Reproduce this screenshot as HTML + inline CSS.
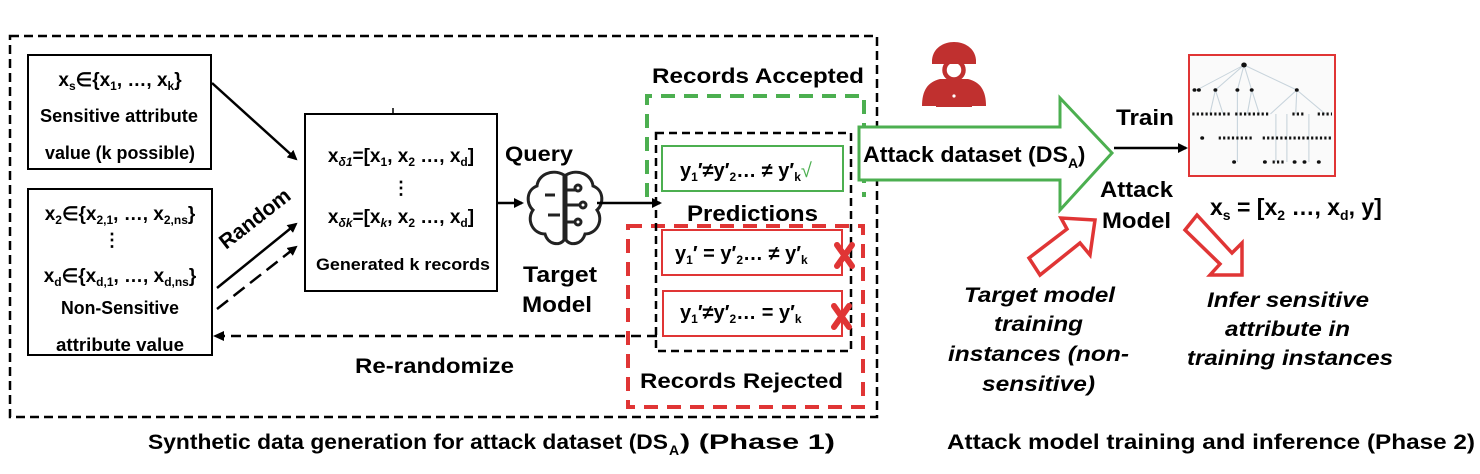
<!DOCTYPE html>
<html><head><meta charset="utf-8"><style>
html,body{margin:0;padding:0;background:#fff;}
svg{display:block;font-family:"Liberation Sans",Arial,sans-serif;font-weight:bold;}
</style></head><body>
<svg width="1480" height="474" viewBox="0 0 1480 474" xmlns="http://www.w3.org/2000/svg">
<defs>
<marker id="ah" markerWidth="10" markerHeight="10" refX="8" refY="5" orient="auto" markerUnits="userSpaceOnUse"><path d="M0,0 L10,5 L0,10 z" fill="#000"/></marker>
</defs>
<rect x="10" y="36" width="867" height="381" fill="none" stroke="#000" stroke-width="2.5" stroke-dasharray="9,5"/>
<!-- box1 -->
<rect x="28" y="55" width="183" height="114" fill="#fff" stroke="#000" stroke-width="2"/>
<text x="120" y="86" font-size="19" text-anchor="middle">x<tspan font-size="12" dy="4">s</tspan><tspan dy="-4">∈{x</tspan><tspan font-size="12" dy="4">1</tspan><tspan dy="-4">, …, x</tspan><tspan font-size="12" dy="4">k</tspan><tspan dy="-4">}</tspan></text>
<text x="40" y="122" font-size="18" textLength="158" lengthAdjust="spacingAndGlyphs">Sensitive attribute</text>
<text x="45" y="159" font-size="18" textLength="150" lengthAdjust="spacingAndGlyphs">value (k possible)</text>
<!-- box2 -->
<rect x="28" y="189" width="184" height="166" fill="#fff" stroke="#000" stroke-width="2"/>
<text x="120" y="220" font-size="19" text-anchor="middle">x<tspan font-size="12" dy="4">2</tspan><tspan dy="-4">∈{x</tspan><tspan font-size="12" dy="4">2,1</tspan><tspan dy="-4">, …, x</tspan><tspan font-size="12" dy="4">2,ns</tspan><tspan dy="-4">}</tspan></text>
<text x="112" y="246" font-size="18" text-anchor="middle">⋮</text>
<text x="120" y="282" font-size="19" text-anchor="middle">x<tspan font-size="12" dy="4">d</tspan><tspan dy="-4">∈{x</tspan><tspan font-size="12" dy="4">d,1</tspan><tspan dy="-4">, …, x</tspan><tspan font-size="12" dy="4">d,ns</tspan><tspan dy="-4">}</tspan></text>
<text x="61" y="314" font-size="18" textLength="118" lengthAdjust="spacingAndGlyphs">Non-Sensitive</text>
<text x="56" y="351" font-size="18" textLength="128" lengthAdjust="spacingAndGlyphs">attribute value</text>
<!-- box3 -->
<rect x="305" y="114" width="192" height="177" fill="#fff" stroke="#000" stroke-width="2"/>
<line x1="393" y1="108" x2="393" y2="114" stroke="#000" stroke-width="1.5"/>
<text x="401" y="162" font-size="19" text-anchor="middle">x<tspan font-size="12" dy="4" font-style="italic">δ1</tspan><tspan dy="-4">=[x</tspan><tspan font-size="12" dy="4">1</tspan><tspan dy="-4">, x</tspan><tspan font-size="12" dy="4">2</tspan><tspan dy="-4"> …, x</tspan><tspan font-size="12" dy="4">d</tspan><tspan dy="-4">]</tspan></text>
<text x="401" y="194" font-size="18" text-anchor="middle">⋮</text>
<text x="401" y="223" font-size="19" text-anchor="middle">x<tspan font-size="12" dy="4" font-style="italic">δk</tspan><tspan dy="-4">=[x</tspan><tspan font-size="12" dy="4" font-style="italic">k</tspan><tspan dy="-4">, x</tspan><tspan font-size="12" dy="4">2</tspan><tspan dy="-4"> …, x</tspan><tspan font-size="12" dy="4">d</tspan><tspan dy="-4">]</tspan></text>
<text x="316" y="270" font-size="17" textLength="174" lengthAdjust="spacingAndGlyphs">Generated k records</text>
<!-- arrows left -->
<line x1="212" y1="83" x2="296" y2="159" stroke="#000" stroke-width="2.5" marker-end="url(#ah)"/>
<line x1="217" y1="288" x2="296" y2="224" stroke="#000" stroke-width="2.5" marker-end="url(#ah)"/>
<line x1="217" y1="309" x2="296" y2="247" stroke="#000" stroke-width="2.5" stroke-dasharray="14,7" marker-end="url(#ah)"/>
<text x="0" y="0" font-size="21" transform="translate(226,250) rotate(-38)" textLength="84" lengthAdjust="spacingAndGlyphs">Random</text>
<!-- query -->
<text x="505" y="161" font-size="21" textLength="68" lengthAdjust="spacingAndGlyphs">Query</text>
<line x1="497" y1="203" x2="522" y2="203" stroke="#000" stroke-width="2.5" marker-end="url(#ah)"/>
<g fill="none" stroke="#222" stroke-width="3">
<path d="M564,175 C552,168 538,175 537,186 C526,190 526,204 533,210 C526,220 533,234 545,234 C548,245 560,246 564,240 Z"/>
<path d="M566,175 C578,168 592,175 593,186 C604,190 604,204 597,210 C604,220 597,234 585,234 C582,245 570,246 566,240 Z"/>
<path d="M566,190 h10 M566,205 h14 M566,222 h10 M545,195 h10 M548,215 h12"/>
<circle cx="578" cy="188" r="3"/><circle cx="583" cy="205" r="3"/><circle cx="578" cy="222" r="3"/>
</g>
<line x1="597" y1="203" x2="660" y2="203" stroke="#000" stroke-width="2.5" marker-end="url(#ah)"/>
<text x="523" y="282" font-size="22" textLength="74" lengthAdjust="spacingAndGlyphs">Target</text>
<text x="522" y="312" font-size="22" textLength="70" lengthAdjust="spacingAndGlyphs">Model</text>
<!-- re-randomize -->
<line x1="657" y1="336" x2="222" y2="336" stroke="#000" stroke-width="2.5" stroke-dasharray="10,6"/>
<path d="M213,336 L224,331 L224,341 z" fill="#000"/>
<text x="355" y="373" font-size="21" textLength="159" lengthAdjust="spacingAndGlyphs">Re-randomize</text>
<path d="M647,197 V96 H864 V197" fill="none" stroke="#4caf50" stroke-width="4" stroke-dasharray="14,9"/>
<text x="652" y="83" font-size="21" textLength="212" lengthAdjust="spacingAndGlyphs">Records Accepted</text>
<rect x="628" y="226" width="235" height="181" fill="none" stroke="#e03535" stroke-width="4" stroke-dasharray="14,9"/>
<text x="640" y="388" font-size="21" textLength="203" lengthAdjust="spacingAndGlyphs">Records Rejected</text>
<rect x="656" y="133" width="195" height="218" fill="none" stroke="#000" stroke-width="2.5" stroke-dasharray="8,5"/>
<rect x="662" y="146" width="181" height="45" fill="#fff" stroke="#4caf50" stroke-width="2"/>
<text x="680" y="177" font-size="20">y<tspan font-size="12" dy="4">1</tspan><tspan dy="-4">′≠y′</tspan><tspan font-size="12" dy="4">2</tspan><tspan dy="-4">… ≠ y′</tspan><tspan font-size="12" dy="4">k</tspan><tspan dy="-4" fill="#4caf50" font-weight="normal">√</tspan></text>
<text x="687" y="221" font-size="22" textLength="131" lengthAdjust="spacingAndGlyphs">Predictions</text>
<rect x="662" y="230" width="180" height="45" fill="#fff" stroke="#e03535" stroke-width="2"/>
<text x="675" y="260" font-size="20">y<tspan font-size="12" dy="4">1</tspan><tspan dy="-4">′ = y′</tspan><tspan font-size="12" dy="4">2</tspan><tspan dy="-4">… ≠ y′</tspan><tspan font-size="12" dy="4">k</tspan></text>
<rect x="663" y="291" width="179" height="45" fill="#fff" stroke="#e03535" stroke-width="2"/>
<text x="680" y="319" font-size="20">y<tspan font-size="12" dy="4">1</tspan><tspan dy="-4">′≠y′</tspan><tspan font-size="12" dy="4">2</tspan><tspan dy="-4">… = y′</tspan><tspan font-size="12" dy="4">k</tspan></text>
<g stroke="#e03535" stroke-width="6" stroke-linecap="round"><path d="M837,245 L852,266 M852,245 L837,266"/><path d="M834,306 L849,327 M849,306 L834,327"/></g>
<!-- big green arrow -->
<path d="M859,127 H1060 V98 L1112,153 L1060,210 V180 H859 Z" fill="#fff" stroke="#4caf50" stroke-width="3"/>
<text x="863" y="162" font-size="22" textLength="205" lengthAdjust="spacingAndGlyphs">Attack dataset (DS</text><text x="1068" y="168" font-size="14">A</text><text x="1078" y="162" font-size="22">)</text>
<!-- hacker -->
<g fill="#c0302f">
<path d="M932,60 C934,36 974,36 976,60 L976,64 H932 Z"/>
<circle cx="954" cy="70" r="9.5" fill="none" stroke="#c0302f" stroke-width="4.5"/>
<path d="M922,106 C922,90 928,82 940,79 L968,79 C980,82 986,90 986,106 Z"/>
<rect x="936" y="85" width="36" height="22"/>
</g>
<circle cx="954" cy="96" r="1.6" fill="#fff"/>
<!-- train -->
<text x="1116" y="125" font-size="22" textLength="58" lengthAdjust="spacingAndGlyphs">Train</text>
<line x1="1114" y1="148" x2="1186" y2="148" stroke="#000" stroke-width="2.5" marker-end="url(#ah)"/>
<rect x="1189" y="55" width="146" height="121" fill="#fafafa" stroke="#e03535" stroke-width="2"/>
<g transform="translate(1189,55) scale(1.1,1) translate(-1161,-55)">
<g stroke="#c8d4dc" stroke-width="1" fill="none">
<path d="M1211,65 L1168,90 M1211,65 L1185,90 M1211,65 L1205,90 M1211,65 L1218,90 M1211,65 L1259,90"/>
<path d="M1185,90 L1180,114 M1185,90 L1192,114 M1218,90 L1214,114 M1218,90 L1225,114 M1259,90 L1235,114 M1259,90 L1258,114 M1259,90 L1285,114"/>
<path d="M1205,90 V162 M1240,114 V162 M1250,114 V162 M1270,114 V162"/>
</g>
<g fill="#111">
<circle cx="1211" cy="65" r="2.5"/>
<circle cx="1166" cy="90" r="1.8"/><circle cx="1170" cy="90" r="1.8"/><circle cx="1185" cy="90" r="1.8"/><circle cx="1205" cy="90" r="1.8"/><circle cx="1218" cy="90" r="1.8"/><circle cx="1259" cy="90" r="1.8"/>
<g stroke="#111" stroke-width="3" stroke-dasharray="2,2"><path d="M1164,114 h36 M1203,114 h32 M1255,114 h10 M1278,114 h13 M1188,138 h30 M1228,138 h63 M1237,162 h12"/></g>
<circle cx="1173" cy="138" r="1.8"/>
<circle cx="1202" cy="162" r="1.8"/><circle cx="1230" cy="162" r="1.8"/><circle cx="1257" cy="162" r="1.8"/><circle cx="1266" cy="162" r="1.8"/><circle cx="1279" cy="162" r="1.8"/>
</g>
</g>
<text x="1100" y="197" font-size="22" textLength="73" lengthAdjust="spacingAndGlyphs">Attack</text>
<text x="1102" y="228" font-size="22" textLength="69" lengthAdjust="spacingAndGlyphs">Model</text>
<text x="1210" y="215" font-size="23">x<tspan font-size="14" dy="5">s</tspan><tspan dy="-5"> = [x</tspan><tspan font-size="14" dy="5">2</tspan><tspan dy="-5"> …, x</tspan><tspan font-size="14" dy="5">d</tspan><tspan dy="-5">, y]</tspan></text>
<!-- hollow red arrows -->
<path d="M1029,258 L1067,229 L1061,218 L1095,220 L1090,255 L1080,243 L1040,275 Z" fill="#fff" stroke="#e03535" stroke-width="3.5" stroke-linejoin="miter"/>
<path d="M1197,215 L1232,253 L1242,243 L1242,275 L1210,275 L1220,264 L1185,230 Z" fill="#fff" stroke="#e03535" stroke-width="3.5" stroke-linejoin="miter"/>
<g font-size="21" font-style="italic">
<text x="964" y="302" textLength="151" lengthAdjust="spacingAndGlyphs">Target model</text>
<text x="994" y="331" textLength="89" lengthAdjust="spacingAndGlyphs">training</text>
<text x="948" y="361" textLength="181" lengthAdjust="spacingAndGlyphs">instances (non-</text>
<text x="982" y="391" textLength="113" lengthAdjust="spacingAndGlyphs">sensitive)</text>
<text x="1207" y="307" textLength="162" lengthAdjust="spacingAndGlyphs">Infer sensitive</text>
<text x="1225" y="336" textLength="125" lengthAdjust="spacingAndGlyphs">attribute in</text>
<text x="1187" y="365" textLength="206" lengthAdjust="spacingAndGlyphs">training instances</text>
</g>
<text x="148" y="449" font-size="21" textLength="520" lengthAdjust="spacingAndGlyphs">Synthetic data generation for attack dataset (DS</text><text x="669" y="455" font-size="14">A</text><text x="680" y="449" font-size="21" textLength="155" lengthAdjust="spacingAndGlyphs">) (Phase 1)</text>
<text x="947" y="449" font-size="21" textLength="528" lengthAdjust="spacingAndGlyphs">Attack model training and inference (Phase 2)</text>
</svg>
</body></html>
